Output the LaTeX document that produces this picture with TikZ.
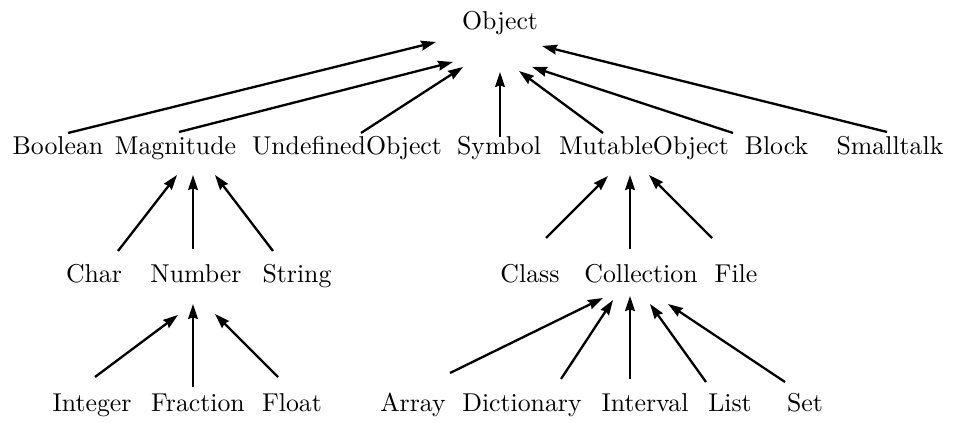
\documentclass[tikz,border=0pt]{standalone}
\usetikzlibrary{arrows.meta}
\begin{document}
\begin{tikzpicture}[x=0.3876pt, y=-0.3876pt,
  cls/.style={anchor=base, inner sep=0pt, font=\fontsize{10}{12}\selectfont},
  isa/.style={-{Stealth[length=5.8pt,width=3.8pt,inset=0.6pt]}, line width=0.9pt}]
\useasboundingbox (0,0) rectangle (954,423);

% class names, placed by their baselines
\node[cls] (object)     at (500,30)   {Object};

\node[cls] (boolean)    at (58,155)   {Boolean};
\node[cls] (magnitude)  at (175.5,155) {Magnitude};
\node[cls] (undefined)  at (347,155)  {UndefinedObject};
\node[cls] (symbol)     at (499,155)  {Symbol};
\node[cls] (mutable)    at (644,155)  {MutableObject};
\node[cls] (block)      at (776.5,155) {Block};
\node[cls] (smalltalk)  at (890,155)  {Smalltalk};

\node[cls] (char)       at (94,283)   {Char};
\node[cls] (number)     at (196,283)  {Number};
\node[cls] (string)     at (297,283)  {String};
\node[cls] (class)      at (530,283)  {Class};
\node[cls] (collection) at (641,283)  {Collection};
\node[cls] (file)       at (736,283)  {File};

\node[cls] (integer)    at (92,412)   {Integer};
\node[cls] (fraction)   at (198,412)  {Fraction};
\node[cls] (float)      at (292,412)  {Float};
\node[cls] (array)      at (413,412)  {Array};
\node[cls] (dictionary) at (522,412)  {Dictionary};
\node[cls] (interval)   at (645,412)  {Interval};
\node[cls] (list)       at (730,412)  {List};
\node[cls] (set)        at (805,412)  {Set};

% subclass -> superclass
\draw[isa] ([shift={(10,-22)}]boolean.base)    -- ([shift={(-64,12)}]object.base);
\draw[isa] ([shift={(3.5,-23)}]magnitude.base) -- ([shift={(-47,32)}]object.base);
\draw[isa] ([shift={(14,-22)}]undefined.base)  -- ([shift={(-37,37)}]object.base);
\draw[isa] ([shift={(1,-18)}]symbol.base)      -- ([shift={(0,42)}]object.base);
\draw[isa] ([shift={(-41,-22)}]mutable.base)   -- ([shift={(19,41)}]object.base);
\draw[isa] ([shift={(-43.5,-22)}]block.base)   -- ([shift={(32,37)}]object.base);
\draw[isa] ([shift={(-3,-23)}]smalltalk.base)  -- ([shift={(42,16)}]object.base);

\draw[isa] ([shift={(24,-32)}]char.base)       -- ([shift={(1.5,20)}]magnitude.base);
\draw[isa] ([shift={(-3,-34)}]number.base)     -- ([shift={(17.5,20)}]magnitude.base);
\draw[isa] ([shift={(-24,-32)}]string.base)    -- ([shift={(39.5,20)}]magnitude.base);

\draw[isa] ([shift={(16,-45)}]class.base)       -- ([shift={(-36,21)}]mutable.base);
\draw[isa] ([shift={(-11,-34)}]collection.base) -- ([shift={(-14,20)}]mutable.base);
\draw[isa] ([shift={(-24,-45)}]file.base)       -- ([shift={(5,20)}]mutable.base);

\draw[isa] ([shift={(3,-35)}]integer.base)     -- ([shift={(-18,32)}]number.base);
\draw[isa] ([shift={(-5,-25)}]fraction.base)   -- ([shift={(-3,21)}]number.base);
\draw[isa] ([shift={(-14,-35)}]float.base)     -- ([shift={(19,31)}]number.base);

\draw[isa] ([shift={(37,-39)}]array.base)      -- ([shift={(-38,15)}]collection.base);
\draw[isa] ([shift={(39,-33)}]dictionary.base) -- ([shift={(-28,17)}]collection.base);
\draw[isa] ([shift={(-15,-33)}]interval.base)  -- ([shift={(-11,13)}]collection.base);
\draw[isa] ([shift={(-24,-30)}]list.base)      -- ([shift={(9,21)}]collection.base);
\draw[isa] ([shift={(-20,-30)}]set.base)       -- ([shift={(27,21)}]collection.base);
\end{tikzpicture}
\end{document}
